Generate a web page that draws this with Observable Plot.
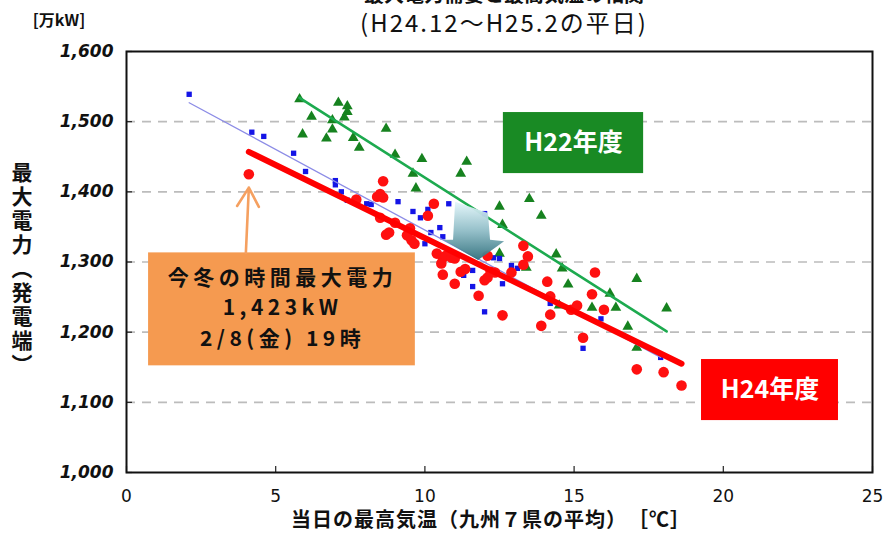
<!DOCTYPE html>
<html><head><meta charset="utf-8">
<script src="https://cdn.jsdelivr.net/npm/d3@7"></script>
<script src="https://cdn.jsdelivr.net/npm/@observablehq/plot@0.6"></script>
<style>
body{margin:0;background:#fff;}
#chart{position:relative;width:894px;height:533px;overflow:hidden;}
</style>
</head><body><div id="chart"></div>
<script>
// ---- data ----
const xTicks = [0, 5, 10, 15, 20, 25];
const yTicks = [1000, 1100, 1200, 1300, 1400, 1500, 1600];
const gridLoads = [1100, 1200, 1300, 1400, 1500];

// H22年度 (green triangles)
const h22Temp = [5.8,7.1,7.4,7.4,6.2,6.9,7.3,6.9,5.9,6.7,7.6,7.8,8.7,9.0,9.9,11.4,9.6,11.2,9.7,12.5,13.5,13.9,12.6,12.5,13.4,14.4,14.6,14.8,17.1,16.2,15.6,16.4,14.5,16.8,18.1,17.1];
const h22Load = [1532,1527,1522,1514,1507,1502,1506,1489,1482,1476,1477,1463,1490,1453,1447,1443,1426,1426,1405,1379,1390,1366,1353,1312,1292,1311,1291,1268,1276,1255,1235,1235,1238,1208,1234,1178];

// H23年度 (blue squares)
const h23Temp = [2.1,4.2,4.6,5.6,6.0,7.0,7.0,7.2,7.4,8.05,8.2,9.1,9.6,9.85,10.1,10.8,10.2,10.5,10.0,10.6,12.0,12.3,12.5,12.9,13.1,11.3,11.6,11.6,12.6,12.0,14.2,15.9,15.3,17.9];
const h23Load = [1539,1485,1479,1455,1429,1416,1410,1400,1388,1383,1382,1386,1372,1363,1375,1383,1342,1349,1326,1336,1369,1306,1305,1295,1291,1281,1288,1265,1269,1229,1241,1219,1177,1164];

// H24年度 (red circles)
const h24Temp = [4.1,8.6,8.5,8.6,8.4,7.7,10.3,10.1,8.5,9.0,8.8,8.7,9.5,9.4,9.55,9.65,10.4,10.6,10.55,10.7,10.9,11.0,10.6,11.0,11.2,11.35,11.8,12.0,12.1,12.1,12.2,12.35,12.9,13.3,13.45,13.3,12.6,14.1,14.2,14.2,13.9,15.1,14.9,15.7,15.6,16.0,15.3,17.1,18.0,18.6];
const h24Load = [1425,1415,1397,1392,1393,1389,1383,1366,1363,1356,1342,1339,1348,1338,1331,1326,1312,1306,1298,1309,1306,1305,1282,1269,1286,1290,1252,1274,1278,1309,1286,1285,1285,1323,1308,1296,1224,1272,1251,1225,1209,1238,1232,1285,1254,1232,1192,1147,1143,1124];

// fitted trend lines: [temp, load] end points
const h22Fit = [[5.8,1534],[18.1,1201]];
const h23Fit = [[2.1,1527],[17.9,1164]];
const h24Fit = [[4.1,1457],[18.6,1155]];

// peak of this winter
const peakTemp = 4.1, peakLoad = 1423;
const noteLines = ["今冬の時間最大電力", "1,423kW", "2/8(金) 19時"];

// ---- build rows ----
const rows = (t, p) => t.map((v, i) => ({t: v, p: p[i]}));
const h22 = rows(h22Temp, h22Load), h23 = rows(h23Temp, h23Load), h24 = rows(h24Temp, h24Load);
const fit = a => a.map(([t, p]) => ({t, p}));

const FONT = "'Noto Sans CJK JP','Noto Sans',sans-serif";
const NUMFONT = "'DejaVu Sans',sans-serif";

// annotation layout (in data units)
const noteBox = {x1: 0.74, x2: 9.68, y1: 1152, y2: 1313};
const greenBox = {x1: 12.63, x2: 17.33, y1: 1426, y2: 1513};
const redBox = {x1: 19.27, x2: 23.86, y1: 1074, y2: 1161};
const bigArrow = [[11.03,1385],[12.13,1369],[12.20,1331],[12.67,1329],[11.80,1302],[10.62,1331],[10.96,1331]];

const chart = Plot.plot({
  width: 894, height: 533,
  marginLeft: 126, marginRight: 22, marginTop: 51, marginBottom: 61,
  x: {domain: [0, 25]},
  y: {domain: [1000, 1600]},
  style: {fontFamily: FONT, background: "white", overflow: "hidden"},
  marks: [
    Plot.ruleY(gridLoads, {stroke: "#bcbcbc", strokeWidth: 1.6, strokeDasharray: "9,7"}),
    // inward tick marks
    Plot.axisX({ticks: xTicks, tickSize: 6, dy: -6, tickFormat: () => "", label: null, stroke: "#222", strokeWidth: 1.2}),
    Plot.axisY({ticks: yTicks, tickSize: 6, dx: 6, tickFormat: () => "", label: null, stroke: "#222", strokeWidth: 1.2}),
    // tick labels
    Plot.axisX({ticks: xTicks, tickSize: 0, tickPadding: 17, label: null, fontSize: 17, fontFamily: NUMFONT, fill: "#111"}),
    Plot.axisY({ticks: yTicks, tickSize: 0, tickPadding: 13, label: null, tickFormat: d3.format(","), fontSize: 17, fontWeight: "bold", fontStyle: "italic", fontFamily: NUMFONT, fill: "#111"}),
    // series
    Plot.dot(h22, {x: "t", y: "p", symbol: "triangle", r: 4, fill: "#16821f", stroke: "none"}),
    Plot.line(fit(h22Fit), {x: "t", y: "p", stroke: "#1daa4f", strokeWidth: 2.6}),
    Plot.dot(h23, {x: "t", y: "p", symbol: "square", r: 3, fill: "#1414e6", stroke: "none"}),
    Plot.line(fit(h23Fit), {x: "t", y: "p", stroke: "#8c8ce6", strokeWidth: 1.3}),
    Plot.dot(h24, {x: "t", y: "p", r: 5.3, fill: "#ff1010", stroke: "none"}),
    Plot.line(fit(h24Fit), {x: "t", y: "p", stroke: "#ff0000", strokeWidth: 6}),
    // annotation box
    Plot.rect([noteBox], {x1: "x1", x2: "x2", y1: "y1", y2: "y2", fill: "#f59a50"}),
    Plot.text([{s: noteLines.join("\n"), x: 5.23, y: 1238}], {x: "x", y: "y", text: "s", fontSize: 21, lineHeight: 1.45, fontWeight: "bold", fill: "#111", fontFamily: FONT}),
    Plot.arrow([{x1: 4.0, y1: noteBox.y2, x2: peakTemp, y2: peakLoad - 17}], {x1: "x1", y1: "y1", x2: "x2", y2: "y2", stroke: "#f5a060", strokeWidth: 2.6, headLength: 14, bend: false}),
    // legend boxes
    Plot.rect([greenBox], {x1: "x1", x2: "x2", y1: "y1", y2: "y2", fill: "#198a24"}),
    Plot.text([{s: "H22年度", x: (greenBox.x1 + greenBox.x2) / 2, y: (greenBox.y1 + greenBox.y2) / 2}], {x: "x", y: "y", text: "s", fill: "white", fontSize: 25, fontWeight: "bold", fontFamily: FONT}),
    Plot.rect([redBox], {x1: "x1", x2: "x2", y1: "y1", y2: "y2", fill: "#ff0000"}),
    Plot.text([{s: "H24年度", x: (redBox.x1 + redBox.x2) / 2, y: (redBox.y1 + redBox.y2) / 2}], {x: "x", y: "y", text: "s", fill: "white", fontSize: 25, fontWeight: "bold", fontFamily: FONT}),
    Plot.frame({stroke: "#111", strokeWidth: 2})
  ]
});

// gradient arrow drawn through the plot's scales
const sx = chart.scale("x"), sy = chart.scale("y");
const svg = d3.select(chart);
svg.selectAll("text").filter(function () { return this.textContent.startsWith("今冬"); })
  .style("letter-spacing", "4.5px");
const defs = svg.append("defs");
const ys = bigArrow.map(d => sy.apply(d[1]));
const grad = defs.append("linearGradient").attr("id", "arrowGrad")
  .attr("gradientUnits", "userSpaceOnUse")
  .attr("x1", 0).attr("x2", 0).attr("y1", d3.min(ys)).attr("y2", d3.max(ys));
grad.append("stop").attr("offset", "0%").attr("stop-color", "#e4f7fb");
grad.append("stop").attr("offset", "50%").attr("stop-color", "#8fbcc6");
grad.append("stop").attr("offset", "100%").attr("stop-color", "#2f6f7c");
svg.insert("path", "g[aria-label=rect]")
  .attr("d", "M" + bigArrow.map(d => [sx.apply(d[0]), sy.apply(d[1])].join(",")).join("L") + "Z")
  .attr("fill", "url(#arrowGrad)").attr("opacity", 0.95);

// titles
const T = (x, y, s, o = {}) => {
  const t = svg.append("text").attr("x", x).attr("y", y).text(s)
    .attr("text-anchor", o.anchor || "middle").attr("font-family", FONT)
    .attr("font-size", o.size || 16).attr("font-weight", o.weight || "normal").attr("fill", "#111");
  if (o.style) t.attr("style", o.style);
  return t;
};
T(504, 2, "最大電力需要と最高気温の相関", {size: 20, weight: "bold"});
T(504, 32, "(H24.12～H25.2の平日)", {size: 24, style: "letter-spacing: 2px;"});
T(59, 26, "[万kW]", {size: 16, weight: "bold"});
T(491, 527, "当日の最高気温（九州７県の平均）　［℃］", {size: 20, weight: "bold", style: "letter-spacing: 1px;"});
T(22, 270, "最大電力（発電端）", {size: 21, weight: "bold", style: "writing-mode: vertical-rl; text-orientation: upright; letter-spacing: 3px;"});

document.getElementById("chart").appendChild(chart);
</script></body></html>
